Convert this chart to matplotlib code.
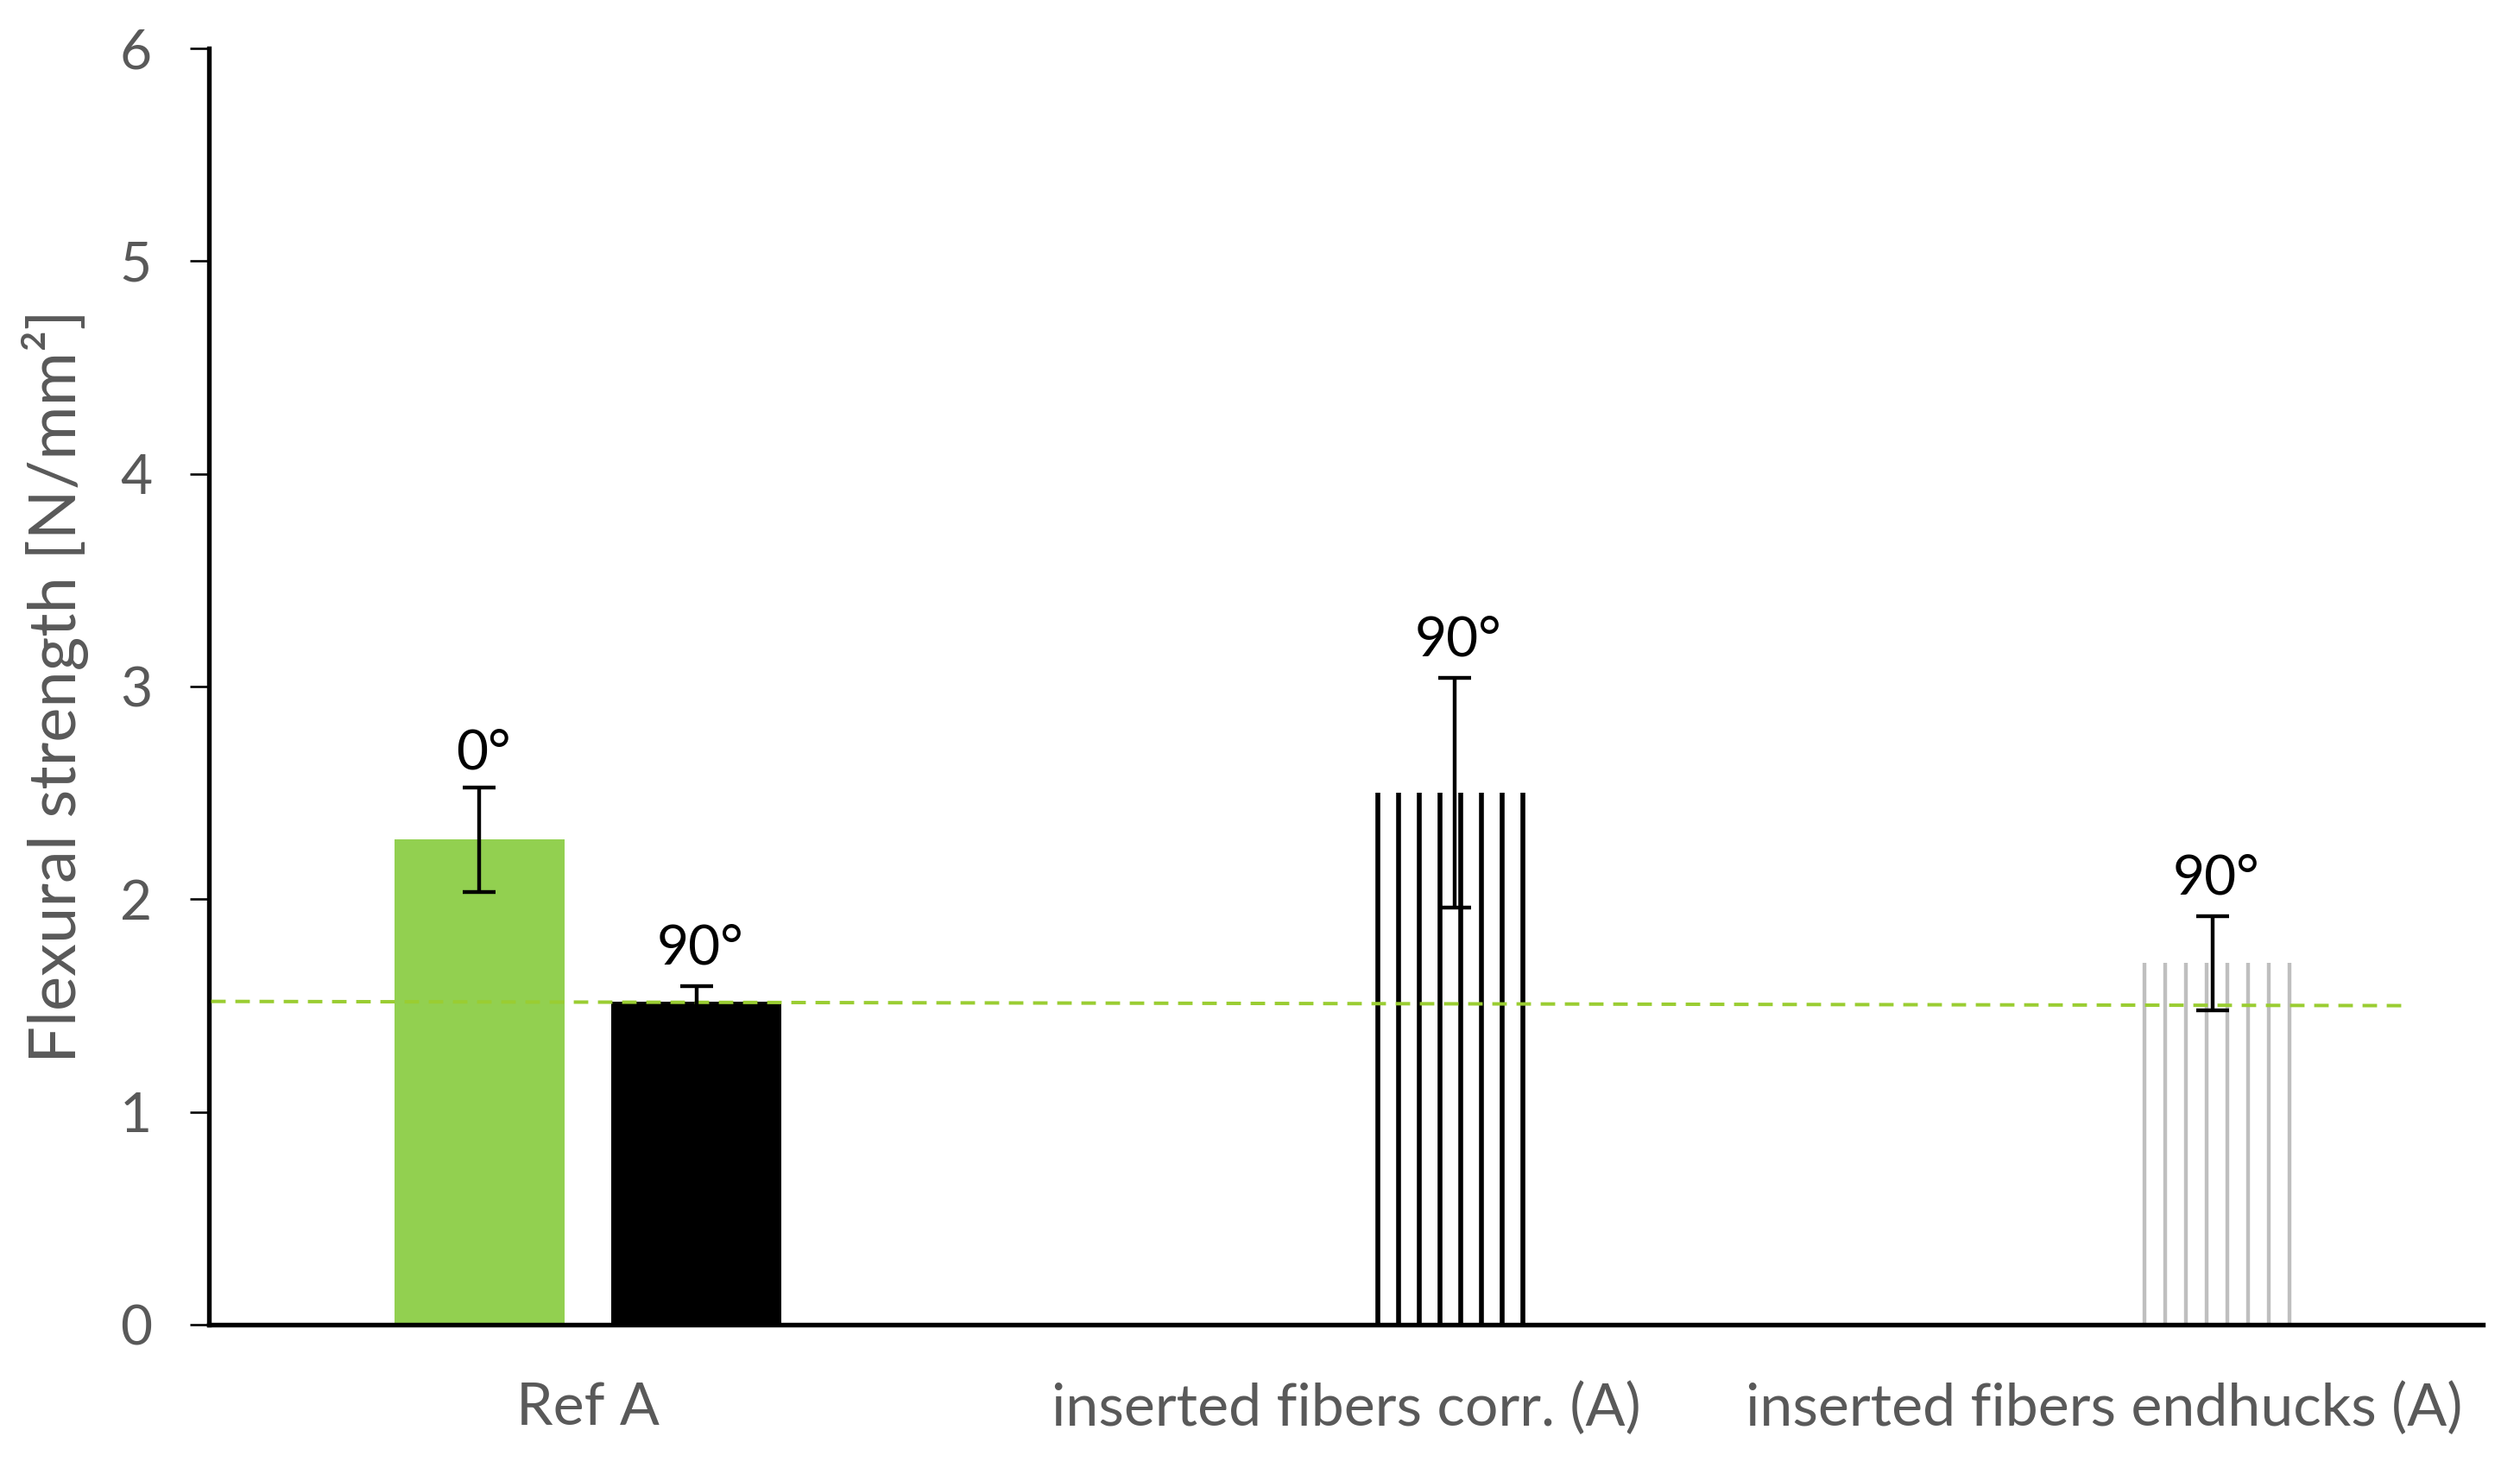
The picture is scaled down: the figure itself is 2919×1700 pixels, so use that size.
import numpy as np
import matplotlib
matplotlib.use("Agg")
import matplotlib.pyplot as plt

# ---- data ----
categories = ["Ref A", "inserted fibers corr. (A)", "inserted fibers endhucks (A)"]
values_0deg = [2.28, np.nan, np.nan]
errors_0deg = [0.245, np.nan, np.nan]
values_90deg = [1.52, 2.50, 1.70]
errors_90deg = [0.07, 0.54, 0.22]
labels_0deg = ["0°", "", ""]
labels_90deg = ["90°", "90°", "90°"]
ref_line_x = [-0.497, 2.396]
ref_line_y = [1.52, 1.50]
yticks = [0, 1, 2, 3, 4, 5, 6]
ylabel = "Flexural strength [N/mm²]"

DPI = 144
plt.rcParams['font.family'] = ['Lato', 'DejaVu Sans']
plt.rcParams['hatch.linewidth'] = 2.6

fig = plt.figure(figsize=(2919 / DPI, 1700 / DPI), dpi=DPI)
ax = fig.add_axes([0.0829, 0.0976, 0.9024, 0.8694])

x = np.arange(len(categories))
width = 0.2234
off = 0.143

GREEN = "#92D050"
# 0° series
ax.bar(x - off, values_0deg, width, color=GREEN, linewidth=0, zorder=2)

# 90° series with per-bar styles
styles = [
    dict(color="black", hatch=None, hlw=None),
    dict(color="white", hatch="|", edge="black", hlw=2.8),
    dict(color="white", hatch="|", edge="#BFBFBF", hlw=2.2),
]
bars90 = ax.bar(x + off, values_90deg, width, zorder=2)
for b, st in zip(bars90, styles):
    if st["hatch"] is None:
        b.set_facecolor(st["color"])
        b.set_linewidth(0)
    else:
        b.set_facecolor("none")
        b.set_edgecolor(st["edge"])
        b.set_linewidth(0)
        b.set_hatch(st["hatch"])
        if hasattr(b, "set_hatch_linewidth"):
            b.set_hatch_linewidth(st["hlw"])

# reference dashed line
ax.plot(ref_line_x, ref_line_y, color="#9ACD32", lw=2.0,
        linestyle=(0, (4.2, 2.8)), zorder=3)

# error bars
ekw = dict(fmt="none", ecolor="black", elinewidth=2.2, capsize=9.5,
           capthick=2.2, zorder=4)
ax.errorbar(x - off, values_0deg, yerr=errors_0deg, **ekw)
ax.errorbar(x + off, values_90deg, yerr=errors_90deg, **ekw)

# labels above error bars
for xi, v, e, t in zip(x - off, values_0deg, errors_0deg, labels_0deg):
    if t and not np.isnan(v):
        ax.annotate(t, (xi, v + e), xytext=(2, 11), textcoords="offset points",
                    ha="center", va="baseline", fontsize=32, color="black")
for xi, v, e, t in zip(x + off, values_90deg, errors_90deg, labels_90deg):
    if t:
        ax.annotate(t, (xi, v + e), xytext=(2, 13), textcoords="offset points",
                    ha="center", va="baseline", fontsize=32, color="black")

ax.set_xlim(-0.5, 2.5)
ax.set_ylim(0, 6)
ax.set_yticks(yticks)
ax.set_xticks(x)
ax.set_xticklabels(categories)
ax.tick_params(axis="x", length=0, pad=33, labelsize=34, labelcolor="#595959")
ax.tick_params(axis="y", length=11, width=1.3, pad=22, labelsize=32,
               labelcolor="#595959", color="black", direction="out")
ax.set_ylabel(ylabel, fontsize=38, color="#595959", labelpad=18)

for s in ["top", "right"]:
    ax.spines[s].set_visible(False)
for s in ["left", "bottom"]:
    ax.spines[s].set_linewidth(2.7)
    ax.spines[s].set_color("black")

fig.savefig("out.png", dpi=DPI, facecolor="white")
